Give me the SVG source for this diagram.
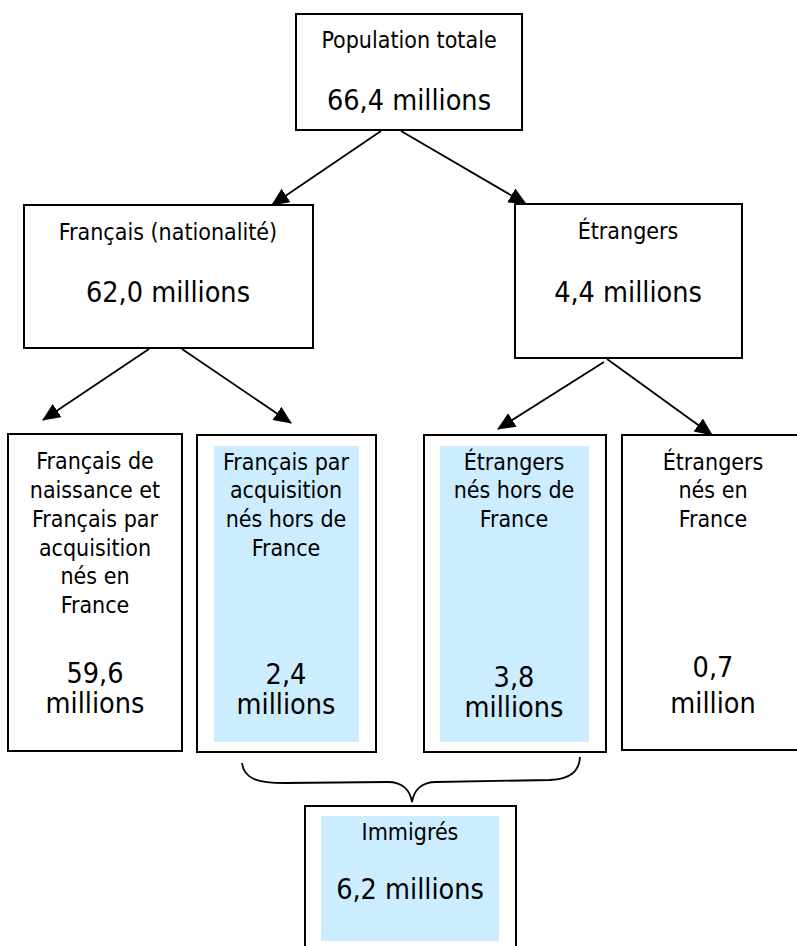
<svg xmlns="http://www.w3.org/2000/svg" width="797" height="946" viewBox="0 0 797 946">
<defs>
<marker id="ah" markerUnits="userSpaceOnUse" markerWidth="20" markerHeight="18" refX="17" refY="8" orient="auto">
<path d="M0,0 L18,8 L0,16 Z" fill="#000"/>
</marker>
</defs>
<style>
.box{fill:#fff;stroke:#000;stroke-width:2}
.blue{fill:#CCECFF;stroke:none}
.t{font-family:"DejaVu Sans Condensed","DejaVu Sans",Verdana,sans-serif;font-size:23px;fill:#000;text-anchor:middle}
.b{font-family:"DejaVu Sans Condensed","DejaVu Sans",Verdana,sans-serif;font-size:28.5px;fill:#000;text-anchor:middle}
.c{stroke:#000;stroke-width:1.8;fill:none}
</style>
<rect width="797" height="946" fill="#fff"/>
<g id="connectors">
<line class="c" x1="381" y1="131" x2="272" y2="205" marker-end="url(#ah)"/>
<line class="c" x1="401" y1="131" x2="526" y2="204" marker-end="url(#ah)"/>
<line class="c" x1="149" y1="349" x2="43" y2="420" marker-end="url(#ah)"/>
<line class="c" x1="182" y1="349" x2="291" y2="423" marker-end="url(#ah)"/>
<line class="c" x1="604" y1="362" x2="498" y2="429" marker-end="url(#ah)"/>
<line class="c" x1="607" y1="359" x2="712" y2="435" marker-end="url(#ah)"/>
<path class="c" d="M242,763 C244,779 258,783 285,783 L388,782 C402,782 410,790 412,802 C414,790 422,782 436,782 L550,780 C570,779 579,772 580,757"/>
</g>
<g id="population">
<rect class="box" x="296" y="14" width="226" height="116"/>
<text class="t" x="409" y="48">Population totale</text>
<text class="b" x="409" y="110">66,4 millions</text>
</g>
<g id="francais">
<rect class="box" x="24" y="205" width="289" height="143"/>
<text class="t" x="168" y="240">Français (nationalité)</text>
<text class="b" x="168" y="302">62,0 millions</text>
</g>
<g id="etrangers">
<rect class="box" x="515" y="204" width="227" height="154"/>
<text class="t" x="628" y="239">Étrangers</text>
<text class="b" x="628" y="302">4,4 millions</text>
</g>
<g id="francais-naissance">
<rect class="box" x="8" y="434" width="174" height="317"/>
<text class="t" x="95" y="469">Français de</text>
<text class="t" x="95" y="498">naissance et</text>
<text class="t" x="95" y="527">Français par</text>
<text class="t" x="95" y="556">acquisition</text>
<text class="t" x="95" y="584">nés en</text>
<text class="t" x="95" y="613">France</text>
<text class="b" x="95" y="683">59,6</text>
<text class="b" x="95" y="713">millions</text>
</g>
<g id="francais-acquisition">
<rect class="box" x="197" y="435" width="179" height="317"/>
<rect class="blue" x="214" y="446" width="145" height="296"/>
<text class="t" x="286" y="470">Français par</text>
<text class="t" x="286" y="498">acquisition</text>
<text class="t" x="286" y="527">nés hors de</text>
<text class="t" x="286" y="556">France</text>
<text class="b" x="286" y="684">2,4</text>
<text class="b" x="286" y="714">millions</text>
</g>
<g id="etrangers-hors">
<rect class="box" x="424" y="435" width="182" height="317"/>
<rect class="blue" x="440" y="446" width="149" height="296"/>
<text class="t" x="514" y="470">Étrangers</text>
<text class="t" x="514" y="498">nés hors de</text>
<text class="t" x="514" y="527">France</text>
<text class="b" x="514" y="687">3,8</text>
<text class="b" x="514" y="717">millions</text>
</g>
<g id="etrangers-en-france">
<rect class="box" x="622" y="435" width="185" height="315"/>
<text class="t" x="713" y="470">Étrangers</text>
<text class="t" x="713" y="498">nés en</text>
<text class="t" x="713" y="527">France</text>
<text class="b" x="713" y="677">0,7</text>
<text class="b" x="713" y="713">million</text>
</g>
<g id="immigres">
<rect class="box" x="305" y="806" width="211" height="150"/>
<rect class="blue" x="321" y="816" width="178" height="125"/>
<text class="t" x="410" y="840">Immigrés</text>
<text class="b" x="410" y="899">6,2 millions</text>
</g>
</svg>
